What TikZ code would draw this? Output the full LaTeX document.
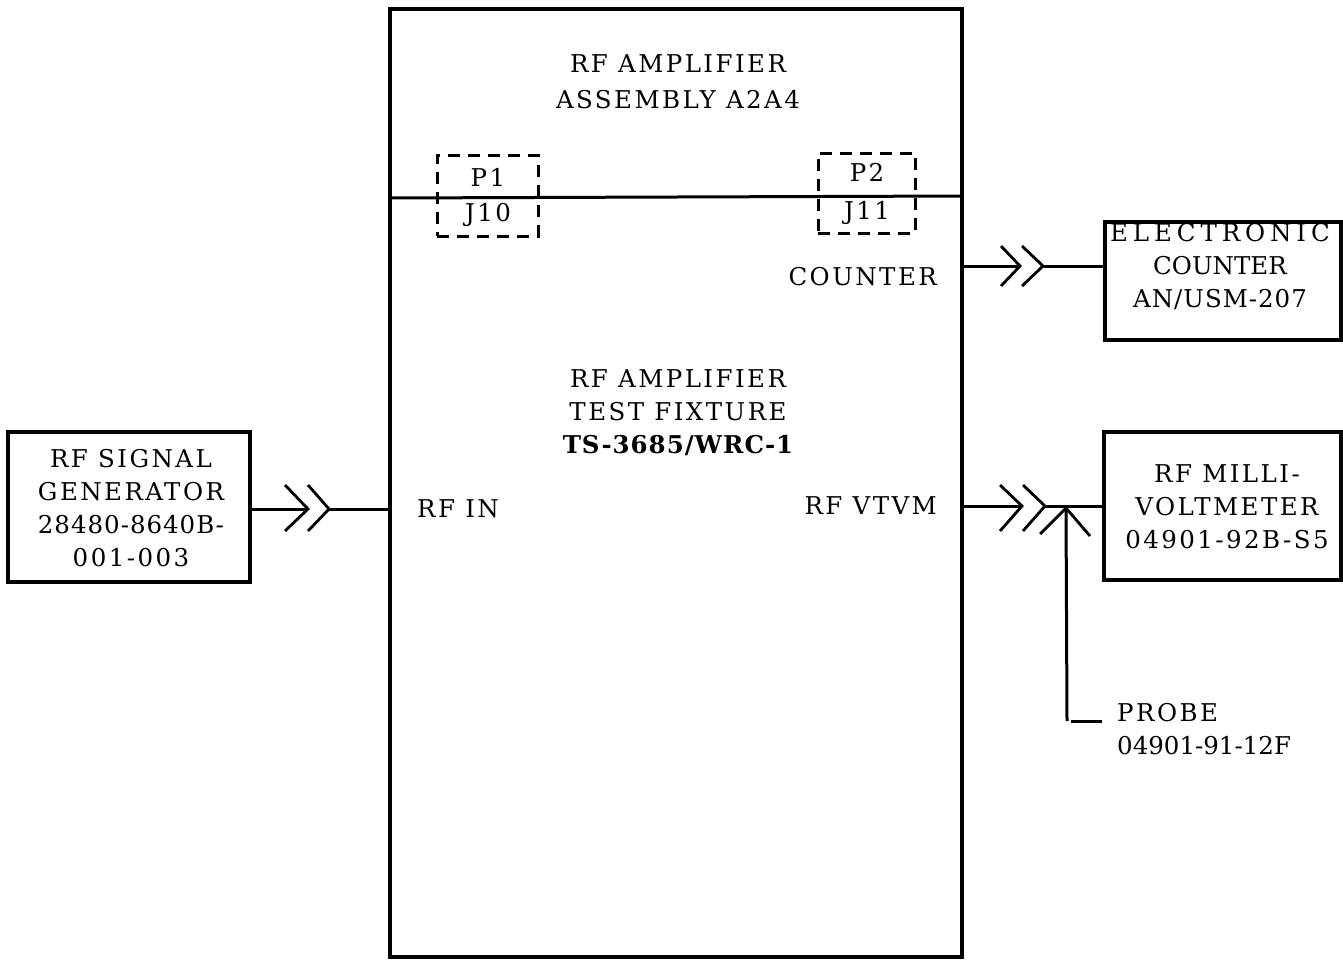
\documentclass[tikz,border=0pt]{standalone}
\usepackage{fontspec}
\usetikzlibrary{calc}
\setmainfont{DejaVu Serif}[LetterSpace=10]
\newfontfamily\widesp{DejaVu Serif}[LetterSpace=20]
\newfontfamily\medsp{DejaVu Serif}[LetterSpace=4]
\newfontfamily\tightsp{DejaVu Serif}[LetterSpace=0]
\newcommand\fs{\fontsize{24.5}{33}\selectfont}
\begin{document}
\begin{tikzpicture}[x=1pt,y=-1pt,
  box/.style={draw, line width=3.2pt, inner sep=0pt, align=center, font=\fs},
  dbox/.style={draw, line width=3pt, inner sep=0pt, dash pattern=on 12pt off 8pt},
  txt/.style={align=center, font=\fs, inner sep=0pt},
  wire/.style={line width=3pt},
  chev/.style={line width=2.8pt}]
\useasboundingbox (0,0) rectangle (1343,959);
% main fixture box
\node[box, minimum width=572pt, minimum height=948pt] (main) at (676,483) {};
\draw[wire] (main.west |- 0,198) -- (main.east |- 0,196);
\node[txt] (t1) at (678,82) {RF AMPLIFIER\\[3pt]ASSEMBLY A2A4};
\node[txt] (t2) at (678,413) {RF AMPLIFIER\\TEST FIXTURE\\\medsp\bfseries TS-3685/WRC-1};
% connectors P1/J10, P2/J11
\node[dbox, minimum width=101pt, minimum height=81pt] (p1box) at (487.5,195.5) {};
\node[txt] (p1) at (488,177) {P1};
\node[txt] (j10) at (488,215) {J10};
\node[dbox, minimum width=97pt, minimum height=80pt] (p2box) at (866.5,193) {};
\node[txt] (p2) at (867,172) {P2};
\node[txt] (j11) at (867,213) {J11};
% inner labels
\node[txt, anchor=east] (counterlbl) at (937,277) {COUNTER};
\node[txt] (rfin) at (458,509) {RF IN};
\node[txt, anchor=east] (vtvm) at (937,506) {RF VTVM};
% external boxes
\node[box, minimum width=242pt, minimum height=150pt] (gen) at (129,507) {};
\node[txt] (gentxt) at (131,508) {RF SIGNAL\\GENERATOR\\{\medsp 28480-8640B-}\\001-003};
\node[box, minimum width=236pt, minimum height=118pt] (cnt) at (1223,281) {};
\node[txt] (cnttxt) at (1220,267) {{\widesp ELECTRONIC}\\{\tightsp COUNTER}\\{\medsp AN/USM-207}};
\node[box, minimum width=237pt, minimum height=148pt] (mv) at (1222.5,506) {};
\node[txt] (mvtxt) at (1227,507) {RF MILLI-\\VOLTMETER\\04901-92B-S5};
% RF IN connector
\coordinate (a1) at (308,509);
\coordinate (a2) at (329,509);
\draw[wire] (gen.east |- a1) -- (a1);
\draw[chev] ($(a1)+(-23,-24)$) -- (a1) -- ($(a1)+(-23,22)$);
\draw[chev] ($(a2)+(-21,-24)$) -- (a2) -- ($(a2)+(-21,22)$);
\draw[wire] (a2) -- (main.west |- a2);
% COUNTER connector
\coordinate (b1) at (1020,266);
\coordinate (b2) at (1043,266);
\draw[wire] (main.east |- b1) -- (b1);
\draw[chev] ($(b1)+(-19,-20)$) -- (b1) -- ($(b1)+(-19,20)$);
\draw[chev] ($(b2)+(-21,-20)$) -- (b2) -- ($(b2)+(-21,20)$);
\draw[wire] (b2) -- (cnt.west |- b2);
% RF VTVM connector
\coordinate (c1) at (1022,506);
\coordinate (c2) at (1045,506);
\draw[wire] (main.east |- c1) -- (c1);
\draw[chev] ($(c1)+(-22,-21)$) -- (c1) -- ($(c1)+(-22,25)$);
\draw[chev] ($(c2)+(-22,-21)$) -- (c2) -- ($(c2)+(-22,25)$);
\draw[wire] (c2) -- (mv.west |- c2);
% probe
\coordinate (pt) at (1066,508);
\coordinate (pb) at (1067,721);
\draw[chev] ($(pt)+(-26,26)$) -- (pt) -- ($(pt)+(24,28)$);
\draw[wire] (pt) -- (pb);
\node[txt, anchor=west, align=left] (probe) at (1117,729) {PROBE\\{\tightsp 04901-91-12F}};
\coordinate (pl) at (1102,721);
\draw[wire] ($(pb)+(4,0)$) -- (pl);
\end{tikzpicture}
\end{document}
